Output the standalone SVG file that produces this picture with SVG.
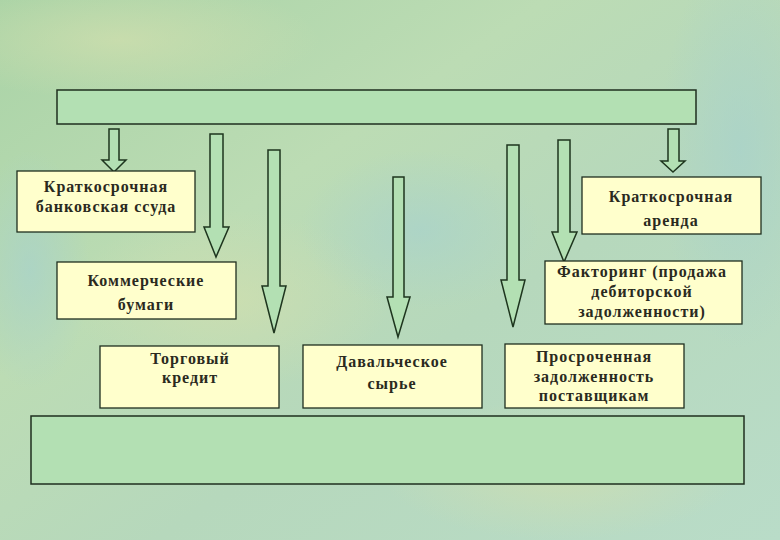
<svg xmlns="http://www.w3.org/2000/svg" width="780" height="540" viewBox="0 0 780 540">
<defs>
<linearGradient id="bg" x1="0" y1="0" x2="1" y2="1">
<stop offset="0" stop-color="#a9d3a6"/>
<stop offset="0.35" stop-color="#bcdcb4"/>
<stop offset="0.6" stop-color="#b6d8bc"/>
<stop offset="1" stop-color="#b9dcc8"/>
</linearGradient>
<radialGradient id="spot1" cx="0.5" cy="0.5" r="0.5">
<stop offset="0" stop-color="#d2dfae" stop-opacity="0.7"/>
<stop offset="1" stop-color="#d2dfae" stop-opacity="0"/>
</radialGradient>
<radialGradient id="spot2" cx="0.5" cy="0.5" r="0.5">
<stop offset="0" stop-color="#a8d2cc" stop-opacity="0.7"/>
<stop offset="1" stop-color="#a8d2cc" stop-opacity="0"/>
</radialGradient>
<style>
.box{fill:#ffffcc;stroke:#1f2f1f;stroke-width:1.3}
.bar{fill:#b3e0b3;stroke:#1f2f1f;stroke-width:1.5}
.arr{fill:#b3e0b3;stroke:#1e351e;stroke-width:1.5;stroke-linejoin:miter}
.t{font-family:'Liberation Serif','DejaVu Serif',serif;font-weight:bold;font-size:16px;letter-spacing:1px;fill:#2a2a1e;text-anchor:middle}
</style>
</defs>
<rect width="780" height="540" fill="url(#bg)"/>
<ellipse cx="230" cy="300" rx="160" ry="90" fill="url(#spot1)"/>
<ellipse cx="560" cy="470" rx="180" ry="70" fill="url(#spot1)"/>
<ellipse cx="120" cy="40" rx="200" ry="60" fill="url(#spot1)"/>
<ellipse cx="420" cy="230" rx="120" ry="80" fill="url(#spot2)"/>
<ellipse cx="740" cy="150" rx="80" ry="200" fill="url(#spot2)"/>
<ellipse cx="30" cy="270" rx="60" ry="120" fill="url(#spot2)"/>

<g id="top"><rect class="bar" x="57" y="90" width="639" height="34"/></g>
<g id="bottom"><rect class="bar" x="31" y="416" width="713" height="68"/></g>

<g id="connectors">
<polygon class="arr" points="109,129 119,129 119,160 126,160 114,172 102,160 109,160"/>
<polygon class="arr" points="210,134 223,134 223,227 229,227 216,257 204,227 210,227"/>
<polygon class="arr" points="268,150 280,150 280,286 286,286 274,333 262,286 268,286"/>
<polygon class="arr" points="393,177 404,177 404,297 410,297 398,337 387,297 393,297"/>
<polygon class="arr" points="507,145 519,145 519,280 525,280 513,327 501,280 507,280"/>
<polygon class="arr" points="558,140 570,140 570,232 577,232 564,262 552,232 558,232"/>
<polygon class="arr" points="668,129 679,129 679,161 685,161 673,172 661,161 668,161"/>
</g>

<g class="t" font-family="Liberation Serif, DejaVu Serif, serif">
<g id="n1"><rect class="box" x="17" y="171" width="178" height="61"/>
<text x="106" y="192">Краткосрочная</text><text x="106" y="212">банковская ссуда</text></g>
<g id="n2"><rect class="box" x="582" y="177" width="179" height="57"/>
<text x="671" y="202">Краткосрочная</text><text x="671" y="226">аренда</text></g>
<g id="n3"><rect class="box" x="57" y="262" width="179" height="57"/>
<text x="146" y="286">Коммерческие</text><text x="146" y="310">бумаги</text></g>
<g id="n4"><rect class="box" x="545" y="261" width="197" height="63"/>
<text x="642" y="277">Факторинг (продажа</text><text x="642" y="297">дебиторской</text><text x="642" y="317">задолженности)</text></g>
<g id="n5"><rect class="box" x="100" y="346" width="179" height="62"/>
<text x="190" y="364">Торговый</text><text x="190" y="383">кредит</text></g>
<g id="n6"><rect class="box" x="303" y="345" width="179" height="63"/>
<text x="392" y="367">Давальческое</text><text x="392" y="389">сырье</text></g>
<g id="n7"><rect class="box" x="505" y="344" width="179" height="64"/>
<text x="594" y="362">Просроченная</text><text x="594" y="382">задолженность</text><text x="594" y="401">поставщикам</text></g>
</g>
</svg>
